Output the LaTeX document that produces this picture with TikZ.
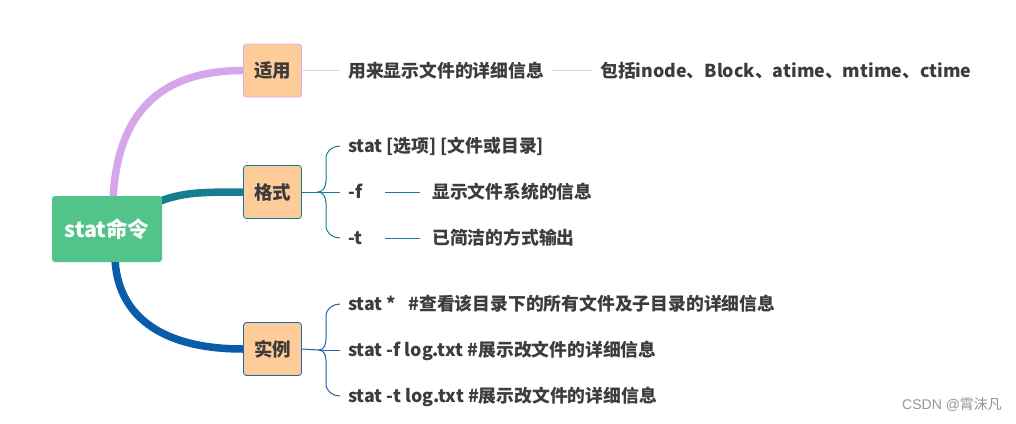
\documentclass[tikz,border=0pt]{standalone}
\usepackage{fontspec}
\setmainfont{Noto Sans CJK SC}
\newfontfamily\wmlatin{Liberation Sans}
\usetikzlibrary{calc}
\pgfdeclarelayer{bg}
\pgfsetlayers{bg,main}
\definecolor{txt}{RGB}{60,60,60}
\definecolor{rootgreen}{RGB}{82,196,138}
\definecolor{peach}{RGB}{254,204,153}
\definecolor{cpurple}{RGB}{214,166,234}
\definecolor{lpurple}{RGB}{232,204,242}
\definecolor{bpurple}{RGB}{220,170,235}
\definecolor{cteal}{RGB}{22,124,145}
\definecolor{cblue}{RGB}{10,92,168}
\definecolor{lblue}{RGB}{30,100,170}
\definecolor{wmgray}{RGB}{150,150,150}
\begin{document}
\begin{tikzpicture}[x=1pt,y=-1pt,
  topic/.style={fill=peach, rounded corners=3pt, minimum width=58pt, minimum height=53pt,
    inner sep=0pt, font=\fontsize{18.5}{20}\selectfont\bfseries, text=txt, line width=0.8pt},
  item/.style={anchor=west, inner xsep=8pt, inner ysep=0pt, text height=16pt, text depth=2.8pt,
    font=\fontsize{17.8}{20}\selectfont\bfseries, text=txt},
  thinline/.style={line width=1pt},
  branch/.style={line width=7.5pt}
]
\useasboundingbox (0,0) rectangle (1016,423);
\begin{pgfonlayer}{bg}
\fill[white] (0,0) rectangle (1016,423);
\end{pgfonlayer}

% root
\node[fill=rootgreen, rounded corners=3pt, minimum width=110pt, minimum height=66pt,
  inner sep=0pt, text=white, font=\fontsize{21.5}{23}\selectfont\bfseries] (root) at (107,229) {stat命令};

% topics
\node[topic, draw=bpurple] (a) at (272.5,70.5) {适用};
\node[topic, draw=cteal] (b) at (272.5,192) {格式};
\node[topic, draw=lblue] (c) at (272.5,349) {实例};

% main branches
\begin{pgfonlayer}{bg}
\draw[branch, cpurple] ($(root.north)+(6,4)$) .. controls +(4,-85) and +(-85,0) .. (a.west);
\draw[branch, cteal] ($(root.north east)+(-12,9)$) .. controls +(30,-12) and +(-50,0) .. (b.west);
\draw[branch, cblue] ($(root.south)+(8,-4)$) .. controls +(2,55) and +(-85,0) .. (c.west);
\end{pgfonlayer}

% 适用
\node[item] (t1) at (340,70.5) {用来显示文件的详细信息};
\node[item] (t2) at (592,70.5) {包括inode、Block、atime、mtime、ctime};
\draw[thinline, lpurple] (a.east) -- (a.east -| t1.west);
\draw[thinline, lpurple] (t1.east) -- (t1.east -| t2.west);

% 格式
\node[item] (s1) at (340,146) {stat [选项] [文件或目录]};
\node[item] (s2) at (340,192) {-f};
\node[item] (s3) at (340,238) {-t};
\node[item] (d2) at (424,192) {显示文件系统的信息};
\node[item] (d3) at (424,238) {已简洁的方式输出};
\coordinate (gtip) at (318,192);
\draw[thinline, cteal] (b.east) -- (gtip);
\draw[thinline, cteal] (s1.west) to[out=180,in=90] (326,158) -- (326,181)
  to[out=-90,in=0] (gtip) to[out=0,in=90] (326,203) -- (326,226) to[out=-90,in=180] (s3.west);
\draw[thinline, cteal] (gtip) -- (gtip -| s2.west);
\draw[thinline, cteal] ($(d2.west)+(-39,0)$) -- ($(d2.west)+(-4,0)$);
\draw[thinline, cteal] ($(d3.west)+(-39,0)$) -- ($(d3.west)+(-4,0)$);

% 实例
\node[item] (e1) at (340,304) {stat *~~ \#查看该目录下的所有文件及子目录的详细信息};
\node[item] (e2) at (340,350) {stat -f log.txt \#展示改文件的详细信息};
\node[item] (e3) at (340,396) {stat -t log.txt \#展示改文件的详细信息};
\coordinate (ctip) at (319,350);
\draw[thinline, lblue] (c.east) -- (ctip);
\draw[thinline, lblue] (e1.west) to[out=180,in=90] (326,316) -- (326,339)
  to[out=-90,in=0] (ctip) to[out=0,in=90] (326,361) -- (326,384) to[out=-90,in=180] (e3.west);
\draw[thinline, lblue] (ctip) -- (ctip -| e2.west);

% watermark
\node[anchor=west, inner sep=0pt, text=wmgray, font=\fontsize{14}{15}\selectfont] (wm) at (902,405) {{\wmlatin CSDN @}霄沫凡};
\end{tikzpicture}
\end{document}
